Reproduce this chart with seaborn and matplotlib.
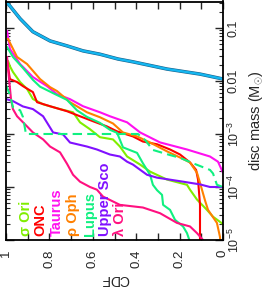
import matplotlib
matplotlib.use("Agg")
import matplotlib.pyplot as plt
import matplotlib.patheffects as pe
from matplotlib.ticker import FixedLocator, FixedFormatter, LogLocator, NullFormatter
import seaborn as sns

# ---------------- data ----------------
model_cdf = [1.0, 0.997, 0.935, 0.876, 0.797, 0.719, 0.645, 0.567, 0.484, 0.415, 0.258, 0.106, 0.0]
model_mass = [0.35, 0.31, 0.15, 0.085, 0.057, 0.046, 0.037, 0.032, 0.026, 0.023, 0.0168, 0.0135, 0.0109]

sigori_cdf = [0.991, 0.982, 0.968, 0.935, 0.903, 0.876, 0.829, 0.751, 0.691, 0.659, 0.613, 0.567,
              0.507, 0.475, 0.442, 0.382, 0.336, 0.258, 0.166, 0.152, 0.12, 0.074, 0.046, 0.014, 0.0]
sigori_mass = [0.024, 0.019, 0.0148, 0.00955, 0.00708, 0.00457, 0.00363, 0.00295, 0.00257, 0.00166,
               0.00123, 8.7e-4, 7.9e-4, 5.8e-4, 3.76e-4, 2.65e-4, 1.95e-4, 1.38e-4, 1.1e-4, 8.9e-5,
               5.8e-5, 3.7e-5, 2.75e-5, 2.2e-5, 2.0e-5]

onc_cdf = [0.995, 0.982, 0.949, 0.922, 0.876, 0.857, 0.797, 0.719, 0.659, 0.599, 0.535, 0.488, 0.415,
           0.369, 0.304, 0.244, 0.198, 0.152, 0.124, 0.115, 0.106, 0.106]
onc_mass = [0.024, 0.01086, 0.00955, 0.008, 0.00617, 0.00398, 0.00334, 0.00269, 0.00216, 0.00174,
            0.00139, 0.00112, 9.0e-4, 7.2e-4, 6.4e-4, 5.1e-4, 4.1e-4, 2.9e-4, 2.1e-4, 1.38e-4, 4.6e-5, 6.5e-6]

taurus_cdf = [0.995, 0.982, 0.935, 0.876, 0.811, 0.765, 0.705, 0.645, 0.567, 0.521, 0.442, 0.382,
              0.29, 0.166, 0.06, 0.023, 0.0]
taurus_mass = [0.0885, 0.0403, 0.0209, 0.01186, 0.008, 0.00564, 0.00454, 0.00334, 0.00257, 0.00216,
               0.00166, 0.00107, 6.93e-4, 5.1e-4, 3.76e-4, 3.0e-4, 1.86e-4]

rhooph_cdf = [0.991, 0.949, 0.903, 0.843, 0.797, 0.765, 0.705, 0.627, 0.567, 0.507, 0.461, 0.396,
              0.336, 0.258, 0.198, 0.152, 0.12, 0.106, 0.083, 0.069, 0.028, 0.014, 0.009]
rhooph_mass = [0.0624, 0.0284, 0.0209, 0.01086, 0.00766, 0.00646, 0.00398, 0.00257, 0.00207, 0.00158,
               0.00107, 9.0e-4, 6.9e-4, 4.7e-4, 3.6e-4, 2.9e-4, 1.86e-4, 1.2e-4, 5.6e-5, 3.7e-5,
               2.1e-5, 1.15e-5, 6.5e-6]

lupus_cdf = [0.995, 0.968, 0.922, 0.876, 0.843, 0.783, 0.719, 0.673, 0.627, 0.567, 0.521, 0.488,
             0.461, 0.396, 0.369, 0.336, 0.323, 0.304, 0.281, 0.276, 0.244, 0.221, 0.184, 0.166,
             0.155, 0.15]
lupus_mass = [0.0437, 0.0284, 0.0176, 0.0105, 0.0078, 0.0059, 0.0044, 0.0028, 0.0021, 0.00162,
              0.0012, 0.00105, 5.6e-4, 4.4e-4, 2.8e-4, 1.7e-4, 1.1e-4, 8.7e-5, 7.1e-5, 4.6e-5,
              3.7e-5, 2.4e-5, 1.8e-5, 1.35e-5, 1.0e-5, 6.5e-6]

lupus_dash_cdf = [1.0, 0.982, 0.968, 0.935, 0.922, 0.908, 0.392, 0.359, 0.323, 0.244, 0.198, 0.138,
                  0.06, 0.046, 0.028, 0.0]
lupus_dash_mass = [0.0083, 0.0055, 0.0032, 0.0028, 0.0021, 0.001, 0.001, 7.7e-4, 5.0e-4, 4.0e-4,
                   3.55e-4, 2.8e-4, 2.1e-4, 1.8e-4, 1.1e-4, 1.0e-4]

usco_cdf = [1.0, 0.968, 0.922, 0.876, 0.829, 0.783, 0.737, 0.705, 0.627, 0.581, 0.521, 0.475, 0.442,
            0.415, 0.35, 0.304, 0.184, 0.106, 0.06, 0.0]
usco_mass = [0.00457, 0.00417, 0.00331, 0.00295, 0.00216, 0.00107, 9.8e-4, 6.9e-4, 5.8e-4, 5.1e-4,
             4.1e-4, 3.76e-4, 3.0e-4, 2.65e-4, 1.7e-4, 1.5e-4, 1.26e-4, 1.12e-4, 1.0e-4, 1.0e-4]

lamori_cdf = [0.995, 0.986, 0.977, 0.968, 0.949, 0.903, 0.876, 0.829, 0.797, 0.751, 0.719, 0.691,
              0.659, 0.613, 0.581, 0.553, 0.475, 0.369, 0.29, 0.212, 0.152, 0.12, 0.092, 0.078]
lamori_mass = [0.0284, 0.011, 0.00457, 0.00295, 0.00216, 0.00139, 0.00107, 7.9e-4, 5.8e-4, 4.5e-4,
               2.75e-4, 1.7e-4, 1.26e-4, 1.0e-4, 8.9e-5, 6.6e-5, 4.6e-5, 4.1e-5, 3.2e-5, 2.1e-5,
               1.8e-5, 1.35e-5, 1.0e-5, 6.5e-6]

region_names = ["σ Ori", "ONC", "Taurus", "ρ Oph", "Lupus", "Upper Sco", "λ Ori"]
region_colors = ["#80ee00", "#ff0000", "#ff10f0", "#ff8000", "#10f080", "#8010ff", "#ff1080"]

cdf_ticks = [1, 0.8, 0.6, 0.4, 0.2, 0]
cdf_labels = ["1", "0.8", "0.6", "0.4", "0.2", "0"]
mass_ticks = [1e-5, 1e-4, 1e-3, 1e-2, 1e-1]
mass_labels = ["$10^{-5}$", "$10^{-4}$", "$10^{-3}$", "0.01", "0.1"]

# ---------------- style ----------------
sns.set_style("ticks")
plt.rcParams["font.family"] = ["Liberation Sans", "DejaVu Sans"]
plt.rcParams["mathtext.fontset"] = "custom"
plt.rcParams["mathtext.rm"] = "Liberation Sans"
plt.rcParams["mathtext.it"] = "Liberation Sans:italic"
plt.rcParams["mathtext.bf"] = "Liberation Sans:bold"

fig = plt.figure(figsize=(2.65, 2.95), dpi=100)
ax = fig.add_axes([6 / 265, 1 - 240 / 295, 217 / 265, 238.5 / 295])
ax.set_yscale("log")

# model band
sns.lineplot(x=model_cdf, y=model_mass, sort=False, estimator=None, color="#14b6f0", lw=1.7, ax=ax,
             path_effects=[pe.Stroke(linewidth=2.5, foreground="#1a5f88"), pe.Normal()])

series = [(sigori_cdf, sigori_mass), (onc_cdf, onc_mass), (taurus_cdf, taurus_mass),
          (rhooph_cdf, rhooph_mass), (lupus_cdf, lupus_mass), (usco_cdf, usco_mass),
          (lamori_cdf, lamori_mass)]
for (cx, my), col in zip(series, region_colors):
    sns.lineplot(x=cx, y=my, sort=False, estimator=None, color=col, lw=1.5, ax=ax)

sns.lineplot(x=lupus_dash_cdf, y=lupus_dash_mass, sort=False, estimator=None, color=region_colors[4],
             lw=1.5, ax=ax, dashes=False, linestyle=(0, (4.5, 2.5)))

ax.set_xlim(1, 0)
ax.set_ylim(1e-5, 0.316)

ax.xaxis.set_major_locator(FixedLocator(cdf_ticks))
ax.xaxis.set_major_formatter(FixedFormatter(cdf_labels))
ax.xaxis.set_minor_locator(FixedLocator([0.9, 0.7, 0.5, 0.3, 0.1]))
ax.yaxis.set_major_locator(FixedLocator(mass_ticks))
ax.yaxis.set_major_formatter(FixedFormatter(mass_labels))
ax.yaxis.set_minor_locator(LogLocator(base=10, subs=range(2, 10), numticks=20))
ax.yaxis.set_minor_formatter(NullFormatter())

ax.tick_params(axis="x", which="both", direction="in", top=True, bottom=True, length=5, width=1,
               labelsize=9.5, pad=7)
ax.tick_params(axis="y", which="major", direction="in", left=True, right=True, labelleft=False,
               labelright=True, length=6, width=1, labelsize=9, pad=3)
ax.tick_params(axis="y", which="minor", direction="in", left=True, right=True, length=3, width=0.8)
for lab in ax.get_xticklabels():
    lab.set_rotation(90)
    lab.set_va("top")
    lab.set_ha("center")
for lab in ax.get_yticklabels():
    lab.set_rotation(90)
    lab.set_va("center")
    lab.set_ha("left")

for s in ax.spines.values():
    s.set_linewidth(1.3)
    s.set_color("black")

ax.yaxis.set_label_position("right")
ax.set_ylabel("disc mass (M$_{\\odot}$)", fontsize=10.5, rotation=90, labelpad=4)
ax.set_xlabel("CDF", fontsize=10, rotation=180, labelpad=3)

label_x = [0.09, 0.157, 0.235, 0.31, 0.387, 0.457, 0.525]
for name, col, xf in zip(region_names, region_colors, label_x):
    ax.text(xf, 0.015, name, rotation=90, transform=ax.transAxes, ha="center", va="bottom",
            color=col, fontweight="bold", fontsize=10.5)

fig.savefig("out.png", dpi=100)
